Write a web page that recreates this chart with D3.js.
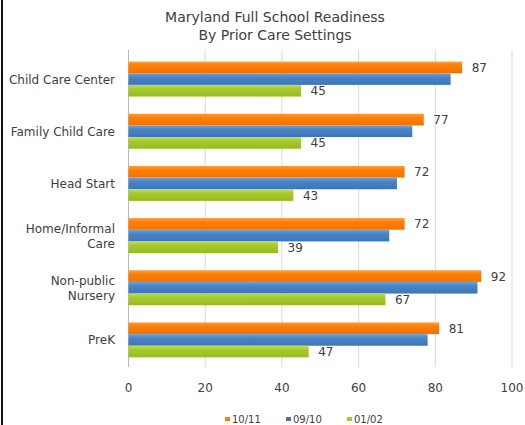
<!DOCTYPE html>
<html><head><meta charset="utf-8">
<script src="https://cdn.jsdelivr.net/npm/d3@7"></script>
<style>
html,body{margin:0;padding:0;background:#fff;}
svg{display:block;font-family:"DejaVu Sans",Verdana,sans-serif;}
</style></head>
<body>
<svg id="chart" width="525" height="425"></svg>
<script>
const categories = ["Child Care Center","Family Child Care","Head Start","Home/Informal Care","Non-public Nursery","PreK"];
const categoryLines = [["Child Care Center"],["Family Child Care"],["Head Start"],["Home/Informal","Care"],["Non-public","Nursery"],["PreK"]];
const seriesNames = ["10/11","09/10","01/02"];
const values1011 = [87,77,72,72,92,81];
const values0910 = [84,74,70,68,91,78];
const values0102 = [45,45,43,39,67,47];
const xTicks = [0,20,40,60,80,100];
const showLabels = [true,false,true];

const series = [values1011, values0910, values0102];
const colors = ["#ff7f00","#4a84c6","#a6c92c"];
const light = ["#ff9a3a","#6fa0d6","#c0dc5a"];
const dark = ["#f27300","#3d76b8","#98bc20"];
const legendColors = ["#ff7f00","#4f6fa8","#a6c92c"];

const svg = d3.select("#chart");
const defs = svg.append("defs");
colors.forEach((c,i)=>{
  const g = defs.append("linearGradient").attr("id","g"+i).attr("x1",0).attr("y1",0).attr("x2",0).attr("y2",1);
  g.append("stop").attr("offset","0%").attr("stop-color",light[i]);
  g.append("stop").attr("offset","35%").attr("stop-color",c);
  g.append("stop").attr("offset","100%").attr("stop-color",dark[i]);
});

// left border
svg.append("rect").attr("x",1).attr("y",0).attr("width",2).attr("height",425).attr("fill","#111");

const x = d3.scaleLinear().domain([0,100]).range([128,511.5]);
const y = d3.scaleBand().domain(categories).range([53,366]).paddingInner(0.33).paddingOuter(0.165);
const ySub = d3.scaleBand().domain(d3.range(3)).range([0,y.bandwidth()]);

// title
svg.append("text").attr("x",275).attr("y",22).attr("text-anchor","middle").attr("font-size",14).attr("fill","#404040").text("Maryland Full School Readiness");
svg.append("text").attr("x",275).attr("y",40).attr("text-anchor","middle").attr("font-size",14).attr("fill","#404040").text("By Prior Care Settings");

// gridlines
svg.append("g").selectAll("line").data(xTicks).join("line")
  .attr("x1",d=>x(d)+0.5).attr("x2",d=>x(d)+0.5).attr("y1",50).attr("y2",367)
  .attr("stroke",d=>d===0?"#b8b8b8":"#d9d9d9").attr("stroke-width",1);

// axis labels
const xAxis = d3.axisBottom(x).tickValues(xTicks).tickSize(0).tickPadding(0);
const ax = svg.append("g").attr("transform","translate(0,392)").call(xAxis);
ax.select(".domain").remove();
ax.selectAll("text").attr("font-size",12).attr("fill","#404040").attr("font-family","DejaVu Sans, Verdana, sans-serif").attr("dy","0");

// category labels
const cat = svg.append("g");
categories.forEach((c,i)=>{
  const lines = categoryLines[i];
  const cy = y(c)+y.bandwidth()/2;
  const lh = 15;
  lines.forEach((t,j)=>{
    cat.append("text").attr("x",115).attr("y",cy+(j-(lines.length-1)/2)*lh+4.5)
      .attr("text-anchor","end").attr("font-size",12).attr("fill","#404040").text(t);
  });
});

// bars
series.forEach((vals,si)=>{
  const g = svg.append("g");
  g.selectAll("rect").data(vals).join("rect")
    .attr("x",x(0)+0.5)
    .attr("y",(d,i)=>y(categories[i])+ySub(si))
    .attr("width",d=>x(d)-x(0))
    .attr("height",ySub.bandwidth())
    .attr("fill","url(#g"+si+")");
  if(showLabels[si]){
    g.selectAll("text").data(vals).join("text")
      .attr("x",d=>x(d)+10)
      .attr("y",(d,i)=>y(categories[i])+ySub(si)+ySub.bandwidth()/2+4.5)
      .attr("font-size",12).attr("fill","#404040").text(d=>d);
  }
});

// legend
const legendX = [232,293,354];
const leg = svg.append("g");
seriesNames.forEach((n,i)=>{
  leg.append("rect").attr("x",legendX[i]-7).attr("y",417).attr("width",5).attr("height",4).attr("fill",legendColors[i]);
  leg.append("text").attr("x",legendX[i]).attr("y",423).attr("font-size",10).attr("fill","#404040").text(n);
});
</script>
</body></html>
